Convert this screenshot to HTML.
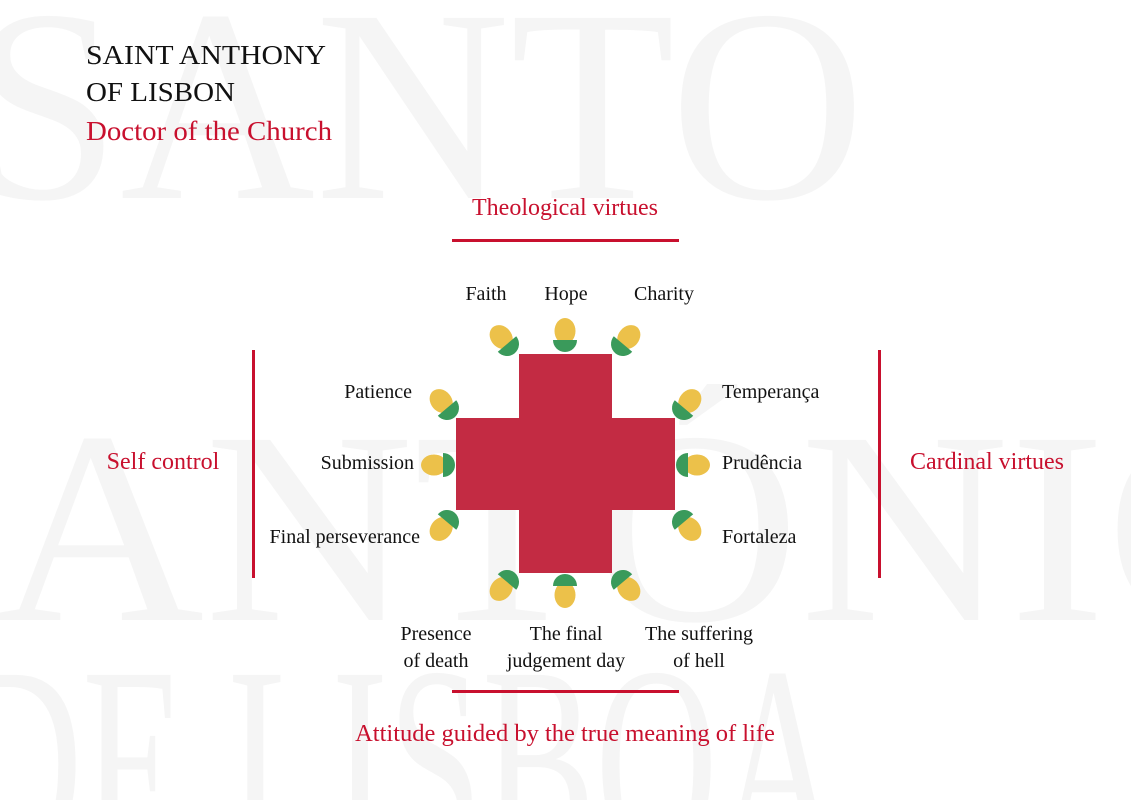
<!DOCTYPE html>
<html><head><meta charset="utf-8"><style>
html,body{margin:0;padding:0;background:#fff}
body{width:1131px;height:800px;overflow:hidden;position:relative}
svg{position:absolute;left:0;top:0;display:block}
</style></head><body>
<svg width="1131" height="800" viewBox="0 0 1131 800" xmlns="http://www.w3.org/2000/svg">
<g fill="#f5f5f5" font-family="Liberation Serif, serif" font-size="275">
<text x="-30" y="198" textLength="895" lengthAdjust="spacingAndGlyphs">SANTO</text>
<text x="-5" y="620" textLength="1320" lengthAdjust="spacingAndGlyphs">ANTÓNIO</text>
<text x="-40" y="855" textLength="880" lengthAdjust="spacingAndGlyphs">DE LISBOA</text>
</g>
<g font-family="Liberation Serif, serif">
<text x="86" y="64" font-size="27" fill="#111" textLength="240" lengthAdjust="spacingAndGlyphs">SAINT ANTHONY</text>
<text x="86" y="101" font-size="27" fill="#111" textLength="149" lengthAdjust="spacingAndGlyphs">OF LISBON</text>
<text x="86" y="140" font-size="27" fill="#c8102e" textLength="246" lengthAdjust="spacingAndGlyphs">Doctor of the Church</text>
<text x="565" y="215" font-size="24" fill="#c8102e" text-anchor="middle">Theological virtues</text>
<text x="565" y="741" font-size="24.5" fill="#c8102e" text-anchor="middle">Attitude guided by the true meaning of life</text>
<text x="163" y="469" font-size="24" fill="#c8102e" text-anchor="middle">Self control</text>
<text x="987" y="469" font-size="24" fill="#c8102e" text-anchor="middle">Cardinal virtues</text>
<g font-size="20" fill="#111">
<text x="486" y="300" text-anchor="middle">Faith</text>
<text x="566" y="300" text-anchor="middle">Hope</text>
<text x="664" y="300" text-anchor="middle">Charity</text>
<text x="412" y="398" text-anchor="end">Patience</text>
<text x="414" y="469" text-anchor="end">Submission</text>
<text x="420" y="543" text-anchor="end">Final perseverance</text>
<text x="722" y="398">Temperança</text>
<text x="722" y="469">Prudência</text>
<text x="722" y="543">Fortaleza</text>
<text x="436" y="640" text-anchor="middle">Presence</text>
<text x="436" y="667" text-anchor="middle">of death</text>
<text x="566" y="640" text-anchor="middle">The final</text>
<text x="566" y="667" text-anchor="middle">judgement day</text>
<text x="699" y="640" text-anchor="middle">The suffering</text>
<text x="699" y="667" text-anchor="middle">of hell</text>
</g>
</g>
<g fill="#c8102e">
<rect x="452" y="239" width="227" height="3"/>
<rect x="452" y="690" width="227" height="3"/>
<rect x="252" y="350" width="3" height="228"/>
<rect x="878" y="350" width="3" height="228"/>
</g>
<g fill="#c32b43">
<rect x="519" y="354" width="93" height="219"/>
<rect x="456" y="418" width="219" height="92"/>
</g>
<defs>
<g id="s">
<ellipse cx="0" cy="-9" rx="10.5" ry="13" fill="#ecc14a"/>
<path d="M-12,0 A12,12 0 0 0 12,0 Z" fill="#3a9a5b"/>
</g>
</defs>
<use href="#s" transform="translate(565,340)"/>
<use href="#s" transform="translate(507,344) rotate(-40)"/>
<use href="#s" transform="translate(623,344) rotate(40)"/>
<use href="#s" transform="translate(447,408) rotate(-40)"/>
<use href="#s" transform="translate(684,408) rotate(40)"/>
<use href="#s" transform="translate(443,465) rotate(-90)"/>
<use href="#s" transform="translate(688,465) rotate(90)"/>
<use href="#s" transform="translate(447,522) rotate(-140)"/>
<use href="#s" transform="translate(684,522) rotate(140)"/>
<use href="#s" transform="translate(507,582) rotate(-140)"/>
<use href="#s" transform="translate(565,586) rotate(180)"/>
<use href="#s" transform="translate(623,582) rotate(140)"/>
</svg>
</body></html>
